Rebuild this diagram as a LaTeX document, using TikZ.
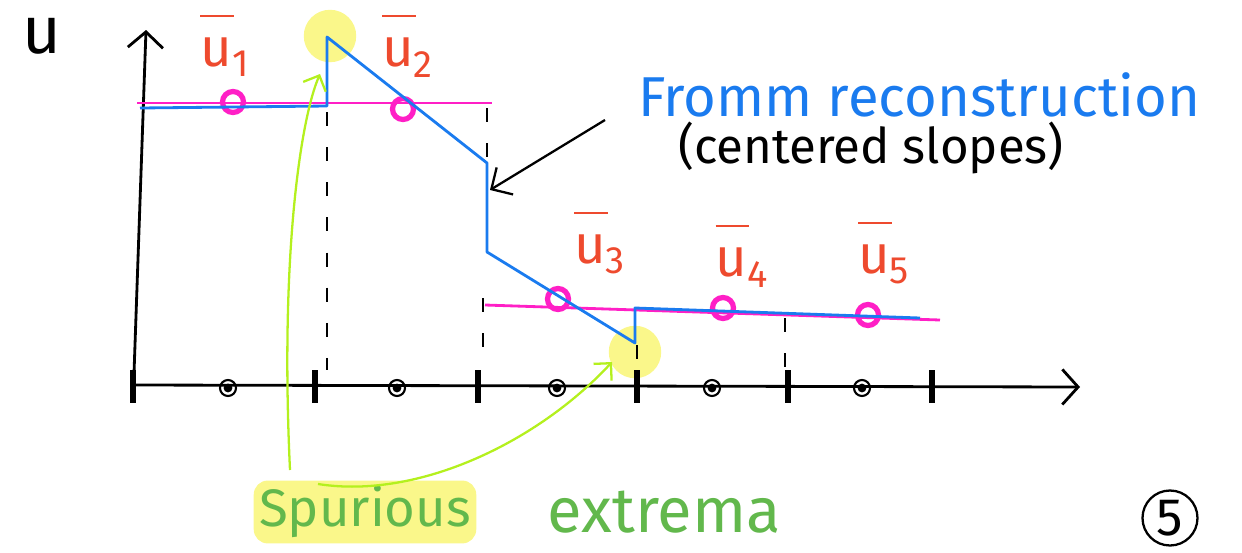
\documentclass[tikz,border=0pt]{standalone}
\usepackage{fontspec}
\setmainfont{Fira Sans}
\usetikzlibrary{arrows.meta,positioning}
\definecolor{penblue}{HTML}{1A7BEF}
\definecolor{penred}{HTML}{EE4A2E}
\definecolor{penpink}{HTML}{FF1FC6}
\definecolor{penlime}{HTML}{B4F01E}
\definecolor{pengreen}{HTML}{62B84C}
\definecolor{hilite}{HTML}{FAF78A}
\newcommand{\ubar}[1]{\makebox[0pt][l]{\raisebox{0.9em}{\rule{0.62em}{1.3pt}}}u\textsubscript{#1}}

\begin{document}
\begin{tikzpicture}[x=0.02cm, y=-0.02cm,
  ax/.style={line width=1.6pt, -{Straight Barb[length=9pt, width=20pt]}},
  tk/.style={line width=3.2pt},
  dsh/.style={line width=1pt, dash pattern=on 8pt off 12pt},
  avg/.style={penpink, line width=1.6pt},
  rec/.style={penblue, line width=1.6pt, line join=round},
  mk/.style={circle, draw=penpink, line width=3pt, minimum size=0.42cm, inner sep=0pt},
  cc/.style={circle, draw, line width=1.2pt, minimum size=0.32cm, inner sep=0pt},
  lab/.style={text=penred, font=\fontsize{31}{33}\selectfont},
  hl/.style={circle, fill=hilite, minimum size=1.05cm, inner sep=0pt},
  garr/.style={penlime, line width=1.3pt, -{Straight Barb[length=7pt, width=14pt]}},
  barr/.style={line width=1.3pt, -{Straight Barb[length=9pt, width=18pt]}}]
\useasboundingbox (0,0) rectangle (1242,552);

% yellow marks on the spurious extrema
\node[hl] (hl1) at (330,36) {};
\node[hl] (hl2) at (635,352) {};

% axes
\coordinate (o) at (133,385);
\coordinate (ytop) at (146,30);
\coordinate (xend) at (1080,387);
\draw[ax] (133,402) -- (ytop);
\draw[ax] (o) -- (xend);
\node[font=\fontsize{38}{40}\selectfont] (ulab) at (42,36) {u};

% cell faces and centres
\foreach \x in {133,315,478,637,788,932}
  \draw[tk] (\x,370) -- (\x,403);
\foreach \x [count=\i] in {228,397,557,712,862} {
  \node[cc] (c\i) at (\x,388) {};
  \fill (c\i) circle (2.5pt);
}

% dashed cell boundaries
\draw[dsh] (327,112) -- (327,370);
\draw[dsh] (487,108) -- (487,163);
\draw[dsh] (483,298) -- (483,368);
\draw[dsh] (637,345) -- (637,370);
\draw[dsh] (785,318) -- (785,370);

% cell averages
\draw[avg] (137,103) -- (492,103);
\draw[avg] (485,305) -- (940,320);
\node[mk] (m1) at (233,102) {};
\node[mk] (m2) at (403,109) {};
\node[mk] (m3) at (558,299) {};
\node[mk] (m4) at (723,308) {};
\node[mk] (m5) at (868,315) {};
\node[lab] (b1) at (225,46) {\ubar{1}};
\node[lab] (b2) at (408,46) {\ubar{2}};
\node[lab] (b3) at (600,243) {\ubar{3}};
\node[lab] (b4) at (742,256) {\ubar{4}};
\node[lab] (b5) at (884,253) {\ubar{5}};

% reconstruction
\draw[rec] (140,108) -- (327,106) -- (327,37) -- (487,163) -- (487,252)
  -- (635,343) -- (635,308) -- (920,318);

% labels
\node[text=penblue, font=\fontsize{32}{34}\selectfont, anchor=west] (fromm) at (632,95) {Fromm reconstruction};
\node[font=\fontsize{28}{30}\selectfont, anchor=west] (slopes) at (672,148) {(centered slopes)};
\coordinate (ptail) at (605,120);
\coordinate (jump) at (490,190);
\draw[barr] (ptail) -- (jump);

\node[fill=hilite, rounded corners=8pt, text=pengreen, font=\fontsize{30}{32}\selectfont, inner sep=3pt] (spur) at (365,512) {Spurious};
\node[text=pengreen, font=\fontsize{36}{38}\selectfont, right=1.3cm of spur] (extr) {extrema};
\coordinate (s1) at (290,470);
\coordinate (s2) at (318,484);
\coordinate (tip1) at (320,74);
\coordinate (tip2) at (612,362);
\draw[garr] (s1) .. controls (280,260) and (300,120) .. (tip1);
\draw[garr] (s2) .. controls (420,500) and (540,440) .. (tip2);

\node[circle, draw, line width=1.3pt, minimum size=1.1cm, inner sep=0pt, font=\fontsize{30}{32}\selectfont] (pg) at (1170,518) {5};
\end{tikzpicture}
\end{document}
